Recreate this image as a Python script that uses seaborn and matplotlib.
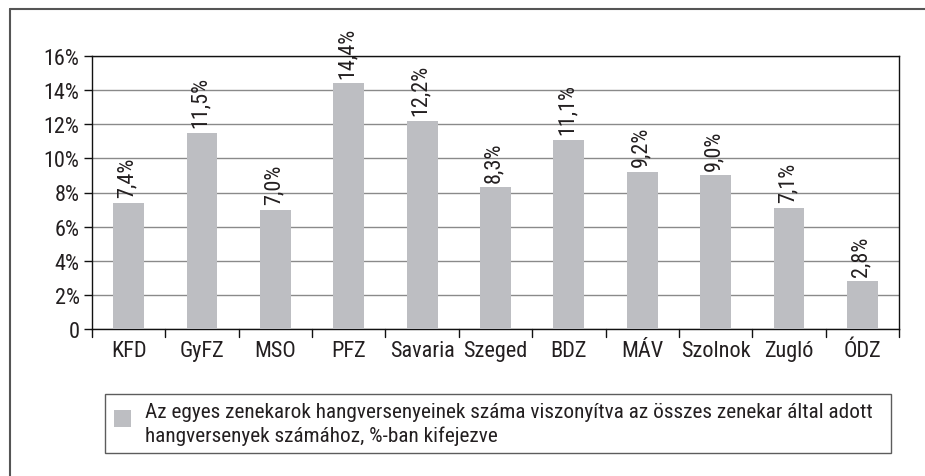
import matplotlib
matplotlib.use("Agg")
import matplotlib.pyplot as plt
import matplotlib.lines as mlines
import matplotlib.patches as mpatches
from matplotlib.legend_handler import HandlerPatch
import seaborn as sns
import pandas as pd
from matplotlib import font_manager

categories = ["KFD", "GyFZ", "MSO", "PFZ", "Savaria", "Szeged", "BDZ", "MÁV", "Szolnok", "Zugló", "ÓDZ"]
values = [7.4, 11.5, 7.0, 14.4, 12.2, 8.3, 11.1, 9.2, 9.0, 7.1, 2.8]
yticks = [0, 2, 4, 6, 8, 10, 12, 14, 16]
ytick_labels = ["0", "2%", "4%", "6%", "8%", "10%", "12%", "14%", "16%"]
legend_label = ("Az egyes zenekarok hangversenyeinek száma viszonyítva az összes zenekar által adott\n"
                "hangversenyek számához, %-ban kifejezve")

sns.set_style("white")
names = {f.name for f in font_manager.fontManager.ttflist}
cands = ["Roboto Condensed", "Archivo Narrow", "Liberation Sans Narrow", "Liberation Sans"]
fams = [c for c in cands if c in names] + ["DejaVu Sans"]
plt.rcParams["font.family"] = fams
txt = "#231f20"
bar_color = "#bdbec2"
fs = 16
lfs = 15.3

df = pd.DataFrame({"cat": categories, "val": values})

fig = plt.figure(figsize=(9.25, 4.77), dpi=100)
ax = fig.add_axes([92/925, 1 - 330/477, (899-92)/925, (330-57)/477])

sns.barplot(data=df, x="cat", y="val", color=bar_color, width=0.42, ax=ax,
            saturation=1, edgecolor="none", zorder=3)

ax.set_ylim(0, 16)
ax.set_xlim(-0.5, len(categories) - 0.5)
ax.set_yticks(yticks)
ax.set_yticklabels(ytick_labels, fontsize=fs, color=txt)
ax.set_xticks(range(len(categories)))
ax.set_xticklabels(categories, fontsize=fs, color=txt)
ax.set_xlabel("")
ax.set_ylabel("")
ax.yaxis.grid(True, color="#8a8a8a", linewidth=1.0, zorder=0)
ax.set_axisbelow(True)
for s in ax.spines.values():
    s.set_visible(True)
    s.set_color("#111111")
    s.set_linewidth(1.0)
ax.tick_params(axis="y", direction="out", length=6, width=1, color="#111111", pad=3, left=True)
ax.tick_params(axis="x", length=0, pad=8)
# category separator ticks
for b in range(len(categories) + 1):
    ax.plot([b - 0.5, b - 0.5], [0, -0.028], transform=ax.get_xaxis_transform(),
            color="#111111", lw=1, clip_on=False)

for i, v in enumerate(values):
    ax.annotate(f"{v:.1f}%".replace(".", ","), xy=(i, v), xytext=(-1, 4),
                textcoords="offset points", rotation=90, ha="center", va="bottom",
                fontsize=fs, color=txt)


# legend: square marker aligned with the first text line
def top_square(legend, orig_handle, xdescent, ydescent, width, height, fontsize):
    sq = 0.8 * fontsize
    return mpatches.Rectangle((-xdescent, -ydescent + height - sq - 0.2 * fontsize), sq, sq)


handle = mpatches.Patch(facecolor=bar_color, edgecolor="none")
leg = fig.legend([handle], [legend_label], loc="upper left", mode="expand",
                 bbox_to_anchor=(105/925, 1 - 459/477, 786/925, 64/477), frameon=True, fancybox=False,
                 fontsize=lfs, handlelength=0.8, handleheight=2.3, borderpad=0.4,
                 handletextpad=0.7, labelcolor=txt, borderaxespad=0,
                 handler_map={mpatches.Patch: HandlerPatch(patch_func=top_square)})
for t in leg.get_texts():
    t.set_linespacing(1.25)
leg.get_frame().set_edgecolor("#333333")
leg.get_frame().set_linewidth(1.0)

# outer figure border (top and left)
fig.add_artist(mlines.Line2D([10/925, 1], [1 - 10/477, 1 - 10/477], color="#555555", lw=1.5))
fig.add_artist(mlines.Line2D([10/925, 10/925], [0, 1 - 10/477], color="#555555", lw=1.5))

fig.savefig("out.png", dpi=100, facecolor="white")
